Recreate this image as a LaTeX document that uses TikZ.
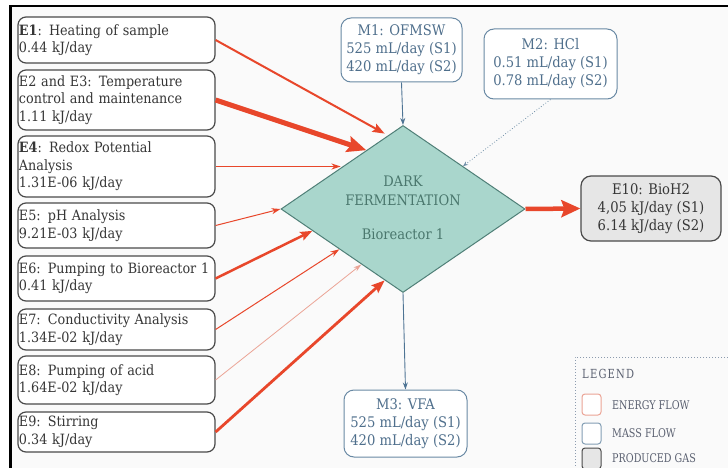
\documentclass[tikz,border=0pt]{standalone}
\usepackage{fontspec}
\setmainfont{DejaVu Serif}[FakeStretch=0.9]
\newfontfamily\legendfont{DejaVu Serif}[FakeStretch=0.8]
\usetikzlibrary{shapes.geometric,arrows.meta,calc}

\definecolor{energy}{HTML}{E8472B}
\definecolor{energylight}{HTML}{EBA496}
\definecolor{massline}{HTML}{4E7494}
\definecolor{masstext}{HTML}{4F6F8C}
\definecolor{reactorfill}{HTML}{A9D6CC}
\definecolor{reactorline}{HTML}{4F7F77}
\definecolor{reactortext}{HTML}{4A776D}
\definecolor{boxline}{HTML}{4A4A4A}
\definecolor{boxtext}{HTML}{363636}
\definecolor{gasfill}{HTML}{E6E6E6}
\definecolor{legendline}{HTML}{8C9BAE}
\definecolor{legendtext}{HTML}{5A6070}
\definecolor{paper}{HTML}{FAFAFA}

\begin{document}
\begin{tikzpicture}[x=1pt,y=-1pt,
  ebox/.style={draw=boxline, line width=1.2pt, rounded corners=8pt, fill=white,
    minimum width=197pt, text width=195pt, align=left, inner sep=1pt,
    text=boxtext, font=\fontsize{14.2}{17.5}\selectfont},
  mbox/.style={draw=massline!85, line width=1pt, rounded corners=10pt, fill=white,
    align=center, inner sep=0pt, text=masstext, font=\fontsize{14.6}{18}\selectfont},
  gasbox/.style={draw=boxline, line width=1.2pt, rounded corners=10pt, fill=gasfill,
    align=center, inner sep=0pt, text=boxtext, font=\fontsize{14.6}{18}\selectfont},
  eflow/.style={draw=energy, line cap=butt},
  mflow/.style={draw=massline, line width=0.9pt, -{Stealth[length=7pt,width=5pt]}},
  swatch/.style={rounded corners=3pt, line width=1pt, minimum width=19pt, minimum height=21pt, inner sep=0pt},
  legtext/.style={anchor=west, inner sep=0pt, text=legendtext, font=\legendfont\fontsize{12}{13}\selectfont}
]
% canvas and frame
\useasboundingbox (0,0) rectangle (728,468);
\fill[white] (0,0) rectangle (728,468);
\fill[paper] (10.5,6) rectangle (728,468);
\draw[line width=2.3pt] (10.5,468) -- (10.5,6) -- (728,6);

% reactor
\node[diamond, draw=reactorline, fill=reactorfill, line width=1pt,
      minimum width=244pt, minimum height=167pt, inner sep=0pt] (df) at (403,209) {};
\node[text=reactortext, align=center, inner sep=0pt,
      font=\fontsize{14.5}{19}\selectfont] (dftext) at (403,207.5)
      {DARK\\FERMENTATION\\[15pt]Bioreactor 1};

% energy inputs
\node[ebox, minimum height=46pt] (e1) at (116.5,40) {\textbf{E1}: Heating of sample\\0.44 kJ/day};
\node[ebox, minimum height=60pt] (e2) at (116.5,100) {E2 and E3: Temperature\\control and maintenance\\1.11 kJ/day};
\node[ebox, minimum height=61pt] (e4) at (116.5,166.5) {\textbf{E4}: Redox Potential\\Analysis\\1.31E-06 kJ/day};
\node[ebox, minimum height=45pt] (e5) at (116.5,225.5) {E5: pH Analysis\\9.21E-03 kJ/day};
\node[ebox, minimum height=45pt] (e6) at (116.5,278.5) {E6: Pumping to Bioreactor 1\\0.41 kJ/day};
\node[ebox, minimum height=41pt] (e7) at (116.5,329.5) {E7: Conductivity Analysis\\1.34E-02 kJ/day};
\node[ebox, minimum height=48pt] (e8) at (116.5,380) {E8: Pumping of acid\\1.64E-02 kJ/day};
\node[ebox, minimum height=40pt] (e9) at (116.5,432) {E9: Stirring\\0.34 kJ/day};

% mass streams and gas
\node[mbox, minimum width=121pt, minimum height=64pt] (m1) at (401.5,50) {M1: OFMSW\\525 mL/day (S1)\\420 mL/day (S2)};
\node[mbox, minimum width=133pt, minimum height=70pt] (m2) at (550.5,64) {M2: HCl\\0.51 mL/day (S1)\\0.78 mL/day (S2)};
\node[mbox, minimum width=123pt, minimum height=67pt] (m3) at (405.5,423.5) {M3: VFA\\525 mL/day (S1)\\420 mL/day (S2)};
\node[gasbox, minimum width=140pt, minimum height=65pt] (e10) at (651,208.5) {E10: BioH2\\4,05 kJ/day (S1)\\6.14 kJ/day (S2)};

% points on the reactor border where the flows arrive
\coordinate (t1) at ($(df.west)!0.85!(df.north)+(0,-4)$);
\coordinate (t2) at ($(df.west)!0.70!(df.north)$);
\coordinate (t4) at ($(df.west)!0.49!(df.north)$);
\coordinate (t6) at ($(df.west)!0.26!(df.south)$);
\coordinate (t7) at ($(df.west)!0.48!(df.south)$);
\coordinate (t8) at ($(df.west)!0.66!(df.south)$);
\coordinate (t9) at ($(df.west)!0.85!(df.south)$);
\coordinate (tm2) at ($(df.north)!0.49!(df.east)$);

% energy flows
\draw[eflow, line width=2pt, -{Stealth[length=12pt,width=9pt,inset=2pt]}] (e1.east) -- (t1);
\draw[eflow, line width=5pt, -{Stealth[length=19pt,width=16pt,inset=3pt]}] (e2.east) -- (t2);
\draw[eflow, line width=1.1pt, -{Stealth[length=9pt,width=6pt]}] (e4.east) -- (t4 |- e4.east);
\draw[eflow, line width=1pt, -{Stealth[length=9pt,width=6pt]}] (e5.east) -- (df.west);
\draw[eflow, line width=2.5pt, -{Stealth[length=12pt,width=9pt,inset=2pt]}] (e6.east) -- (t6);
\draw[eflow, line width=1pt, -{Stealth[length=9pt,width=6pt]}] (e7.east) -- (t7);
\draw[eflow, draw=energylight, line width=0.8pt, -{Stealth[length=8pt,width=5pt]}] (e8.east) -- (t8);
\draw[eflow, line width=2.8pt, -{Stealth[length=13pt,width=10pt,inset=2pt]}] (e9.east) -- (t9);
\draw[eflow, line width=4.5pt, -{Stealth[length=19pt,width=17pt,inset=3pt]}] (df.east) -- (e10.west);

% mass flows
\draw[mflow] (m1.south) -- (df.north);
\draw[draw=massline!80, dotted, line width=0.8pt, -{Stealth[length=5pt,width=4pt]}] (m2.south) -- (tm2);
\draw[mflow] (df.south) -- (m3.north);

% legend
\draw[legendline, dotted, line width=1pt] (728,357) -- (575,357) -- (575,468);
\node[legtext, font=\legendfont\fontsize{12.5}{14}\selectfont] (legtitle) at (582,374) {L\kern1.2pt E\kern1.2pt G\kern1.2pt E\kern1.2pt N\kern1.2pt D};
\node[swatch, draw=energylight, fill=white] (sw1) at (591.5,404.5) {};
\node[swatch, draw=massline!70, fill=white] (sw2) at (591.5,433.5) {};
\node[swatch, draw=boxline, fill=gasfill] (sw3) at (591.5,458.5) {};
\node[legtext] (lab1) at (612,405) {ENERGY FLOW};
\node[legtext] (lab2) at (612,433) {MASS FLOW};
\node[legtext] (lab3) at (612,458) {PRODUCED GAS};
\end{tikzpicture}
\end{document}
